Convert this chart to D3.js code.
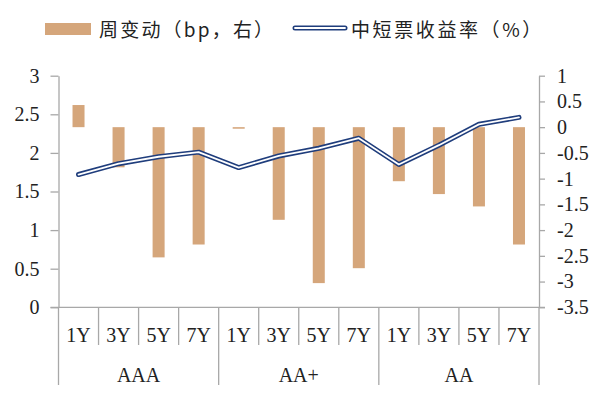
<!DOCTYPE html>
<html>
<head>
<meta charset="utf-8">
<script src="https://cdn.jsdelivr.net/npm/d3@7"></script>
<style>
  body { margin: 0; background: #fff; }
  svg { display: block; }
</style>
</head>
<body>
<svg id="chart"></svg>
<script>
// data
const groups = ["AAA", "AA+", "AA"];
const terms = ["1Y", "3Y", "5Y", "7Y"];
const weeklyChange = [0.43, -0.78, -2.53, -2.28, -0.03, -1.8, -3.03, -2.74, -1.05, -1.3, -1.54, -2.28];
const yieldPct = [1.72, 1.86, 1.95, 2.01, 1.81, 1.96, 2.06, 2.19, 1.85, 2.1, 2.37, 2.46];
const leftTicks = [0, 0.5, 1, 1.5, 2, 2.5, 3];
const rightTicks = [-3.5, -3, -2.5, -2, -1.5, -1, -0.5, 0, 0.5, 1];

const width = 600, height = 393;
const plotL = 58.5, plotR = 539, plotT = 75.7, plotB = 307.3;
const barColor = "#d5a67b";
const lineColor = "#1f3d7c";
const axisColor = "#a8a8a8";
const numFont = "Liberation Serif, Times New Roman, serif";
const cjkFont = "Noto Sans CJK SC, sans-serif";

const cats = [];
groups.forEach(g => terms.forEach(t => cats.push(g + "|" + t)));

const svg = d3.select("#chart").attr("width", width).attr("height", height);

const x = d3.scaleBand().domain(cats).range([plotL, plotR]).padding(0);
const yL = d3.scaleLinear().domain([0, 3]).range([plotB, plotT]);
const yR = d3.scaleLinear().domain([-3.5, 1]).range([plotB, plotT]);

// bars (right axis)
const barW = x.bandwidth() * 0.3;
svg.append("g")
  .selectAll("rect")
  .data(weeklyChange)
  .enter().append("rect")
    .attr("x", (d, i) => x(cats[i]) + (x.bandwidth() - barW) / 2)
    .attr("width", barW)
    .attr("y", d => yR(Math.max(0, d)))
    .attr("height", d => Math.max(1.5, Math.abs(yR(d) - yR(0))))
    .attr("fill", barColor);

// axes
const gL = svg.append("g")
  .attr("transform", `translate(${plotL},0)`)
  .call(d3.axisLeft(yL).tickValues(leftTicks).tickFormat(d => d).tickSize(8).tickSizeOuter(0).tickPadding(11));
const gR = svg.append("g")
  .attr("transform", `translate(${plotR},0)`)
  .call(d3.axisRight(yR).tickValues(rightTicks).tickFormat(d => d).tickSize(6).tickSizeOuter(0).tickPadding(12));
[gL, gR].forEach(g => {
  g.selectAll("path, line").attr("stroke", axisColor).attr("stroke-width", 1.3);
  g.selectAll("text").attr("font-family", numFont).attr("font-size", 20).attr("fill", "#222");
});

// category axis
const gx = svg.append("g");
gx.append("line")
  .attr("x1", plotL - 8).attr("x2", plotR + 6)
  .attr("y1", plotB).attr("y2", plotB)
  .attr("stroke", axisColor).attr("stroke-width", 1.3);
cats.forEach((c, i) => {
  const isGroupEdge = i % terms.length === 0;
  gx.append("line")
    .attr("x1", x(c)).attr("x2", x(c))
    .attr("y1", plotB).attr("y2", isGroupEdge ? 385 : 345)
    .attr("stroke", axisColor).attr("stroke-width", 1.3);
  gx.append("text")
    .attr("x", x(c) + x.bandwidth() / 2).attr("y", 335)
    .attr("dy", "0.35em").attr("text-anchor", "middle")
    .attr("font-family", numFont).attr("font-size", 20).attr("fill", "#222")
    .text(c.split("|")[1]);
});
gx.append("line")
  .attr("x1", plotR).attr("x2", plotR)
  .attr("y1", plotB).attr("y2", 385)
  .attr("stroke", axisColor).attr("stroke-width", 1.3);
groups.forEach(g => {
  const x0 = x(g + "|" + terms[0]);
  const x1 = x(g + "|" + terms[terms.length - 1]) + x.bandwidth();
  gx.append("text")
    .attr("x", (x0 + x1) / 2).attr("y", 375)
    .attr("dy", "0.35em").attr("text-anchor", "middle")
    .attr("font-family", numFont).attr("font-size", 20).attr("fill", "#222")
    .text(g);
});

// yield line (left axis), drawn as a double line
const line = d3.line()
  .x((d, i) => x(cats[i]) + x.bandwidth() / 2)
  .y(d => yL(d));
svg.append("path").datum(yieldPct)
  .attr("d", line).attr("fill", "none")
  .attr("stroke", lineColor).attr("stroke-width", 5)
  .attr("stroke-linejoin", "round").attr("stroke-linecap", "round");
svg.append("path").datum(yieldPct)
  .attr("d", line).attr("fill", "none")
  .attr("stroke", "#fff").attr("stroke-width", 1.8)
  .attr("stroke-linejoin", "round").attr("stroke-linecap", "round");

// legend
const lg = svg.append("g");
lg.append("rect").attr("x", 45).attr("y", 23).attr("width", 46).attr("height", 12).attr("fill", barColor);
lg.append("text").attr("x", 99).attr("y", 30).attr("dy", "0.38em")
  .attr("font-family", cjkFont).attr("font-size", 19).attr("letter-spacing", 2.2).attr("fill", "#222")
  .text("周变动（bp，右）");
lg.append("line").attr("x1", 295).attr("x2", 345).attr("y1", 28).attr("y2", 28)
  .attr("stroke", lineColor).attr("stroke-width", 5).attr("stroke-linecap", "round");
lg.append("line").attr("x1", 295).attr("x2", 345).attr("y1", 28).attr("y2", 28)
  .attr("stroke", "#fff").attr("stroke-width", 1.8).attr("stroke-linecap", "round");
lg.append("text").attr("x", 351).attr("y", 30).attr("dy", "0.38em")
  .attr("font-family", cjkFont).attr("font-size", 19).attr("letter-spacing", 2.6).attr("fill", "#222")
  .text("中短票收益率（%）");
</script>
</body>
</html>
